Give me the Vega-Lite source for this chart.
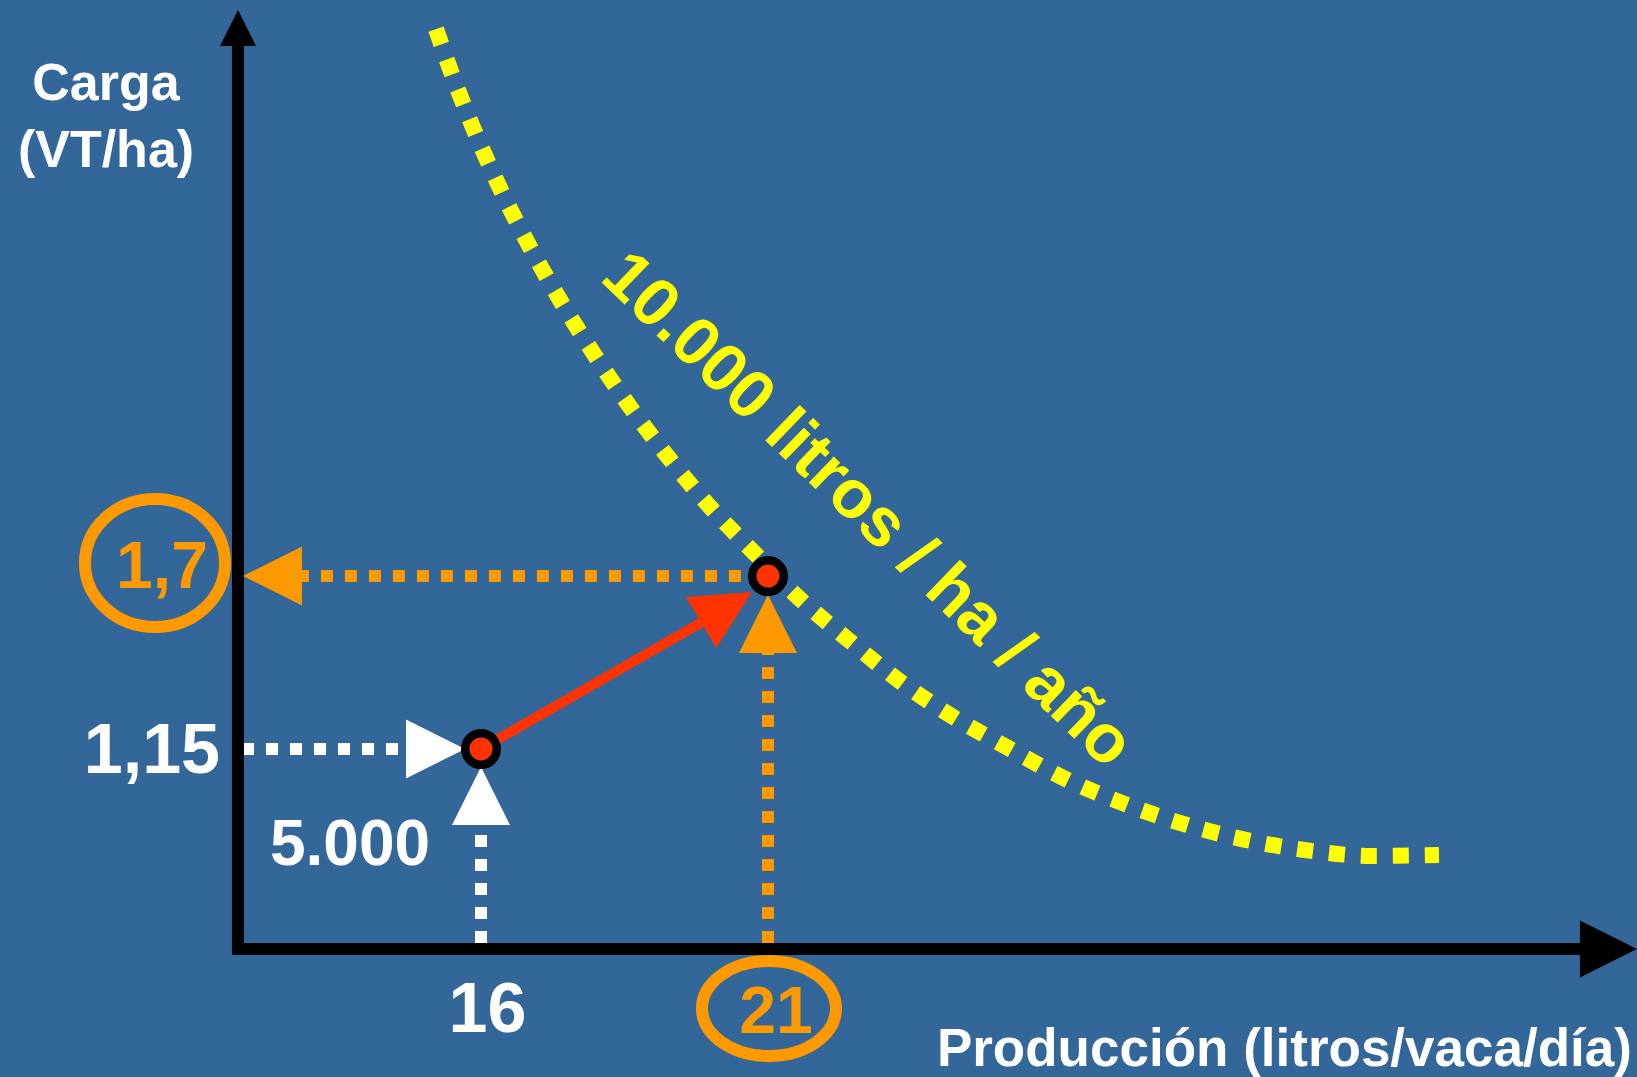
{
  "$schema": "https://vega.github.io/schema/vega-lite/v6.json",
  "width": 1637,
  "height": 1077,
  "autosize": "none",
  "padding": 0,
  "background": "#336699",
  "config": {"view": {"stroke": null}},
  "encoding": {
    "x": {"field": "x", "type": "quantitative", "scale": {"domain": [7.62, 36.14], "nice": false, "zero": false}, "axis": null},
    "y": {"field": "y", "type": "quantitative", "scale": {"domain": [0.107, 3.5316], "nice": false, "zero": false}, "axis": null}
  },
  "layer": [
    {
      "data": {"values": [
        {"x": 15.216, "y": 3.439}, {"x": 15.46, "y": 3.313}, {"x": 15.866, "y": 3.124}, {"x": 16.319, "y": 2.938},
        {"x": 16.824, "y": 2.756}, {"x": 17.376, "y": 2.578}, {"x": 17.968, "y": 2.406}, {"x": 18.596, "y": 2.238},
        {"x": 19.27, "y": 2.076}, {"x": 19.989, "y": 1.92}, {"x": 20.744, "y": 1.777}, {"x": 21.545, "y": 1.629},
        {"x": 22.399, "y": 1.497}, {"x": 23.27, "y": 1.369}, {"x": 24.171, "y": 1.258}, {"x": 25.158, "y": 1.156},
        {"x": 26.157, "y": 1.057}, {"x": 27.19, "y": 0.977}, {"x": 28.235, "y": 0.912}, {"x": 29.322, "y": 0.861},
        {"x": 30.425, "y": 0.827}, {"x": 31.535, "y": 0.81}, {"x": 32.69, "y": 0.813}
      ]},
      "mark": {"type": "line", "color": "#FFFF00", "strokeWidth": 16, "strokeDash": [16, 16], "strokeCap": "butt", "interpolate": "monotone"}
    },
    {
      "data": {"values": [{"x": 22.481, "y": 1.862, "label": "10.000 litros / ha / año"}]},
      "mark": {"type": "text", "font": "Liberation Sans", "fontWeight": "bold", "fontSize": 68, "color": "#FFFF00", "align": "center", "baseline": "alphabetic", "angle": 44}
,
      "encoding": {"text": {"field": "label"}}
    },
    {
      "data": {"values": [{"x": 20.529, "x2": 12.864, "y": 1.7, "y2": 1.7}, {"x": 21, "x2": 21, "y": 0.5332, "y2": 1.4616}]},
      "mark": {"type": "rule", "color": "#FF9900", "strokeWidth": 12, "strokeDash": [12, 12], "strokeCap": "butt"},
      "encoding": {"x2": {"field": "x2"}, "y2": {"field": "y2"}}
    },
    {
      "data": {"values": [{"x": 11.836, "x2": 14.693, "y": 1.15, "y2": 1.15}, {"x": 16, "x2": 16, "y": 0.5332, "y2": 0.9084}]},
      "mark": {"type": "rule", "color": "#FFFFFF", "strokeWidth": 12, "strokeDash": [12, 12], "strokeCap": "butt"},
      "encoding": {"x2": {"field": "x2"}, "y2": {"field": "y2"}}
    },
    {
      "data": {"values": [{"x": 11.766, "x2": 11.766, "y": 0.495, "y2": 3.404}, {"x": 11.662, "x2": 35.32, "y": 0.5141, "y2": 0.5141}]},
      "mark": {"type": "rule", "color": "#000000", "strokeWidth": 12, "strokeCap": "butt"},
      "encoding": {"x2": {"field": "x2"}, "y2": {"field": "y2"}}
    },
    {
      "data": {"values": [{"x": 11.766, "y": 3.5}]},
      "mark": {"type": "point", "shape": "M0,0L-2,-1L-2,1Z", "filled": true, "fill": "#000000", "strokeWidth": 0, "opacity": 1, "size": 1296, "angle": 270}
    },
    {
      "data": {"values": [{"x": 36.139, "y": 0.5141}]},
      "mark": {"type": "point", "shape": "M0,0L-2,-1L-2,1Z", "filled": true, "fill": "#000000", "strokeWidth": 0, "opacity": 1, "size": 3249, "angle": 0}
    },
    {
      "data": {"values": [{"x": 11.853, "y": 1.7}]},
      "mark": {"type": "point", "shape": "M0,0L-2,-1L-2,1Z", "filled": true, "fill": "#FF9900", "strokeWidth": 0, "opacity": 1, "size": 3481, "angle": 180}
    },
    {
      "data": {"values": [{"x": 21, "y": 1.64}]},
      "mark": {"type": "point", "shape": "M0,0L-2,-1L-2,1Z", "filled": true, "fill": "#FF9900", "strokeWidth": 0, "opacity": 1, "size": 3364, "angle": 270}
    },
    {
      "data": {"values": [{"x": 15.721, "y": 1.15}]},
      "mark": {"type": "point", "shape": "M0,0L-2,-1L-2,1Z", "filled": true, "fill": "#FFFFFF", "strokeWidth": 0, "opacity": 1, "size": 3481, "angle": 0}
    },
    {
      "data": {"values": [{"x": 16, "y": 1.093}]},
      "mark": {"type": "point", "shape": "M0,0L-2,-1L-2,1Z", "filled": true, "fill": "#FFFFFF", "strokeWidth": 0, "opacity": 1, "size": 3364, "angle": 270}
    },
    {
      "data": {"values": [{"x": 16, "x2": 19.99, "y": 1.15, "y2": 1.568}]},
      "mark": {"type": "rule", "color": "#FF3300", "strokeWidth": 10, "strokeCap": "butt"},
      "encoding": {"x2": {"field": "x2"}, "y2": {"field": "y2"}}
    },
    {
      "data": {"values": [{"x": 20.721, "y": 1.649}]},
      "mark": {"type": "point", "shape": "M0,0L-2,-1L-2,1Z", "filled": true, "fill": "#FF3300", "strokeWidth": 0, "opacity": 1, "size": 3528, "angle": 329.1}
    },
    {
      "data": {"values": [{"x": 16, "y": 1.15}, {"x": 21, "y": 1.7}]},
      "mark": {"type": "point", "shape": "circle", "filled": true, "fill": "#FF3300", "stroke": "#000000", "strokeWidth": 8.5, "opacity": 1, "size": 992}
    },
    {
      "data": {"values": [{"x": 9.467, "y": 3.214, "label": "Carga"}, {"x": 9.467, "y": 3.001, "label": "(VT/ha)"}]},
      "mark": {"type": "text", "font": "Liberation Sans", "fontWeight": "bold", "fontSize": 52, "color": "#FFFFFF", "align": "center", "baseline": "alphabetic"},
      "encoding": {"text": {"field": "label"}}
    },
    {
      "data": {"values": [{"x": 11.453, "y": 1.074, "label": "1,15"}]},
      "mark": {"type": "text", "font": "Liberation Sans", "fontWeight": "bold", "fontSize": 70, "color": "#FFFFFF", "align": "right", "baseline": "alphabetic"},
      "encoding": {"text": {"field": "label"}}
    },
    {
      "data": {"values": [{"x": 13.718, "y": 0.781, "label": "5.000"}]},
      "mark": {"type": "text", "font": "Liberation Sans", "fontWeight": "bold", "fontSize": 64, "color": "#FFFFFF", "align": "center", "baseline": "alphabetic"},
      "encoding": {"text": {"field": "label"}}
    },
    {
      "data": {"values": [{"x": 16.113, "y": 0.25, "label": "16"}]},
      "mark": {"type": "text", "font": "Liberation Sans", "fontWeight": "bold", "fontSize": 70, "color": "#FFFFFF", "align": "center", "baseline": "alphabetic"},
      "encoding": {"text": {"field": "label"}}
    },
    {
      "data": {"values": [{"x": 10.442, "y": 1.662, "label": "1,7"}, {"x": 21.139, "y": 0.247, "label": "21"}]},
      "mark": {"type": "text", "font": "Liberation Sans", "fontWeight": "bold", "fontSize": 66, "color": "#FF9900", "align": "center", "baseline": "alphabetic"},
      "encoding": {"text": {"field": "label"}}
    },
    {
      "data": {"values": [{"x": 36.052, "y": 0.1424, "label": "Producción (litros/vaca/día)"}]},
      "mark": {"type": "text", "font": "Liberation Sans", "fontWeight": "bold", "fontSize": 53, "color": "#FFFFFF", "align": "right", "baseline": "alphabetic"},
      "encoding": {"text": {"field": "label"}}
    },
    {
      "data": {"values": [{"x": 10.32, "y": 1.7415}]},
      "mark": {"type": "point", "shape": "M-1,0A1,0.914,0,1,0,1,0A1,0.914,0,1,0,-1,0Z", "filled": false, "stroke": "#FF9900", "strokeWidth": 12, "opacity": 1, "size": 19600}
    },
    {
      "data": {"values": [{"x": 21.017, "y": 0.3249}]},
      "mark": {"type": "point", "shape": "M-1,0A1,0.709,0,1,0,1,0A1,0.709,0,1,0,-1,0Z", "filled": false, "stroke": "#FF9900", "strokeWidth": 12, "opacity": 1, "size": 17956}
    }
  ]
}
